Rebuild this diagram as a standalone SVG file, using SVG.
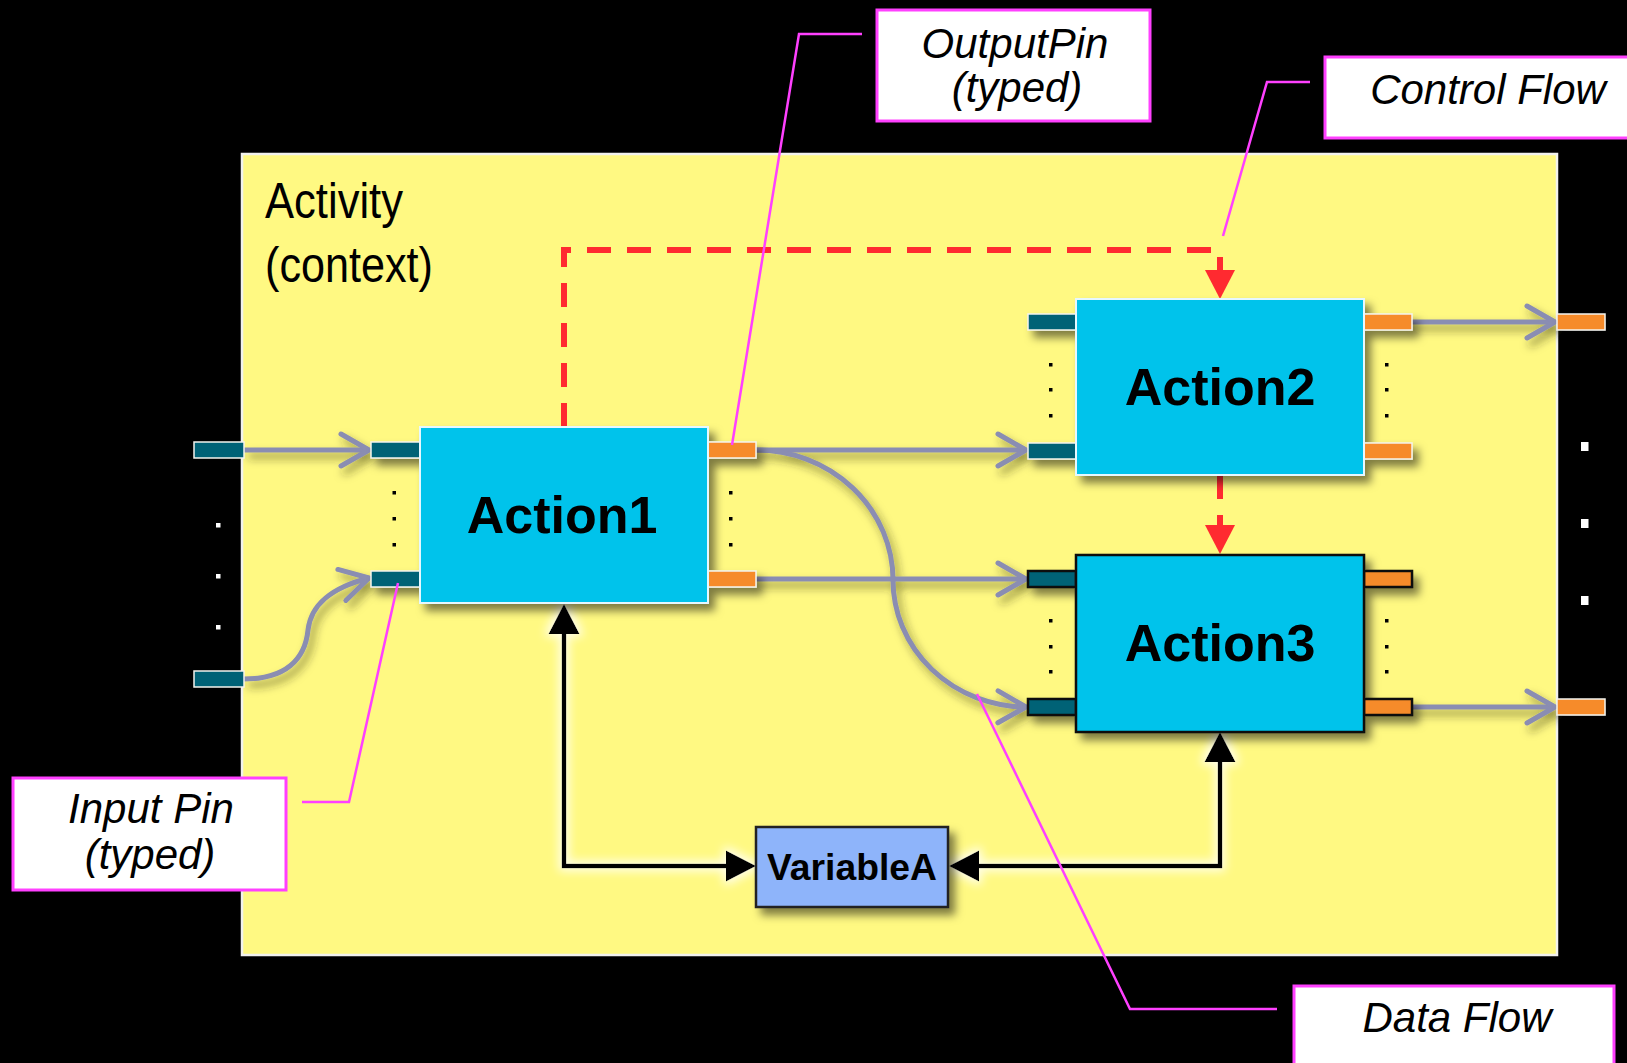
<svg xmlns="http://www.w3.org/2000/svg" width="1627" height="1063" viewBox="0 0 1627 1063">
  <style>
    .frame { fill: #FFF982; stroke: #F2F2EE; stroke-width: 2.5; }
    .ctx { font-family: "Liberation Sans", Arial, sans-serif; font-size: 50px; fill: #000; }
    .action { fill: #00C3EB; }
    .action.light { stroke: #E6F8FF; stroke-width: 2; }
    .action.dark { stroke: #111; stroke-width: 2.5; }
    .aname { font-family: "Liberation Sans", Arial, sans-serif; font-weight: bold; font-size: 52px; fill: #000; text-anchor: middle; }
    .var { fill: #8EB4FA; stroke: #222; stroke-width: 2.5; }
    .vname { font-family: "Liberation Sans", Arial, sans-serif; font-weight: bold; font-size: 37px; fill: #000; text-anchor: middle; }
    .pin-in { fill: #006276; }
    .pin-out { fill: #F68B2A; }
    .pin-light { stroke: #F4F4EE; stroke-width: 1.5; }
    .pin-dark { stroke: #111; stroke-width: 2.5; }
    .dot { fill: #000; }
    .wdot { fill: #FFF; }
    .data { fill: none; stroke: #8A8DB2; stroke-width: 5; marker-end: url(#open); }
    .ctrl { fill: none; stroke: #FF2A30; stroke-width: 6; stroke-dasharray: 24 16; marker-end: url(#redhead); }
    .obj { fill: none; stroke: #000; stroke-width: 4.5; marker-start: url(#blackhead); marker-end: url(#blackhead); }
    .note { fill: #FFF; stroke: #FF40FF; stroke-width: 3; }
    .leader { fill: none; stroke: #FF40FF; stroke-width: 2.5; }
    .ntext { font-family: "Liberation Sans", Arial, sans-serif; font-style: italic; font-size: 42px; fill: #000; text-anchor: middle; }
  </style>
  <defs>
    <filter id="shadow" x="-20%" y="-20%" width="150%" height="160%">
      <feDropShadow dx="6" dy="7" stdDeviation="4" flood-color="#000" flood-opacity="0.5"/>
    </filter>
    <filter id="lineshadow" x="-10%" y="-50%" width="120%" height="250%">
      <feDropShadow dx="4" dy="6" stdDeviation="4" flood-color="#2a2a00" flood-opacity="0.5"/>
    </filter>
    <filter id="glow" x="-20%" y="-20%" width="140%" height="140%">
      <feMorphology in="SourceAlpha" operator="dilate" radius="3" result="d"/>
      <feGaussianBlur in="d" stdDeviation="5" result="b"/>
      <feFlood flood-color="#FFFFFF" flood-opacity="0.8"/>
      <feComposite in2="b" operator="in" result="g"/>
      <feMerge><feMergeNode in="g"/><feMergeNode in="SourceGraphic"/></feMerge>
    </filter>
    <!-- open chevron used by data flows -->
    <marker id="open" markerUnits="userSpaceOnUse" viewBox="0 0 36 36" markerWidth="36" markerHeight="36" refX="31" refY="18" orient="auto" overflow="visible">
      <path d="M3,2 L31,18 L3,34" fill="none" stroke="#8A8DB2" stroke-width="5" stroke-linecap="round" stroke-linejoin="round"/>
    </marker>
    <!-- filled heads -->
    <marker id="redhead" markerUnits="userSpaceOnUse" viewBox="0 0 30 30" markerWidth="30" markerHeight="30" refX="19" refY="15" orient="auto" overflow="visible">
      <path d="M0,0 L29,15 L0,30 Z" fill="#FF2A30"/>
    </marker>
    <marker id="blackhead" markerUnits="userSpaceOnUse" viewBox="0 0 31 31" markerWidth="31" markerHeight="31" refX="20" refY="15.5" orient="auto-start-reverse" overflow="visible">
      <path d="M0,0 L30,15.5 L0,31 Z" fill="#000"/>
    </marker>
  </defs>

  <rect x="0" y="0" width="1627" height="1063" fill="#000"/>

  <!-- enclosing activity -->
  <g id="activity">
    <rect class="frame" x="242" y="154" width="1315" height="801"/>
    <text class="ctx" x="265" y="218" textLength="138" lengthAdjust="spacingAndGlyphs">Activity</text>
    <text class="ctx" x="265" y="282" textLength="168" lengthAdjust="spacingAndGlyphs">(context)</text>
  </g>

  <!-- flows -->
  <g id="connectors">
    <g filter="url(#lineshadow)">
      <path class="data" d="M244,450 H369"/>
      <path class="data" d="M244,679 C285,679 305,660 308,630 C311,605 330,588 369,578"/>
      <path class="data" d="M756,450 H1026"/>
      <path class="data" d="M756,450 A137,130 0 0 1 893,580 A134,127 0 0 0 1026,707"/>
      <path class="data" d="M756,579 H1026"/>
      <path class="data" d="M1412,322 H1555"/>
      <path class="data" d="M1412,707 H1555"/>
    </g>
    <path class="ctrl" d="M564,427 V250 H1220 V289"/>
    <path class="ctrl" d="M1220,475 V544"/>
    <g filter="url(#glow)">
      <path class="obj" d="M564,614 V866 H746"/>
      <path class="obj" d="M1220,742 V866 H959"/>
    </g>
  </g>

  <!-- parameter pins on the activity border -->
  <g id="activity-params">
    <rect class="pin-in pin-light" x="194" y="442" width="50" height="16"/>
    <rect class="pin-in pin-light" x="194" y="671" width="50" height="16"/>
    <rect class="wdot" x="216" y="523" width="4.5" height="4.5"/>
    <rect class="wdot" x="216" y="574" width="4.5" height="4.5"/>
    <rect class="wdot" x="216" y="625" width="4.5" height="4.5"/>
    <g filter="url(#shadow)">
      <rect class="pin-out pin-light" x="1557" y="314" width="48" height="16"/>
      <rect class="pin-out pin-light" x="1557" y="699" width="48" height="16"/>
    </g>
    <rect class="wdot" x="1581" y="442" width="7.5" height="9"/>
    <rect class="wdot" x="1581" y="519" width="7.5" height="9"/>
    <rect class="wdot" x="1581" y="596" width="7.5" height="9"/>
  </g>

  <g id="action1">
    <g filter="url(#shadow)">
      <rect class="pin-in pin-light" x="371" y="442" width="49" height="16"/>
      <rect class="pin-in pin-light" x="371" y="571" width="49" height="16"/>
      <rect class="pin-out pin-light" x="708" y="442" width="48" height="16"/>
      <rect class="pin-out pin-light" x="708" y="571" width="48" height="16"/>
      <rect class="action light" x="420" y="427" width="288" height="176"/>
    </g>
    <text class="aname" x="562" y="533">Action1</text>
    <rect class="dot" x="392.5" y="491" width="3.5" height="3.5"/>
    <rect class="dot" x="392.5" y="517" width="3.5" height="3.5"/>
    <rect class="dot" x="392.5" y="543" width="3.5" height="3.5"/>
    <rect class="dot" x="729" y="491" width="3.5" height="3.5"/>
    <rect class="dot" x="729" y="517" width="3.5" height="3.5"/>
    <rect class="dot" x="729" y="543" width="3.5" height="3.5"/>
  </g>

  <g id="action2">
    <g filter="url(#shadow)">
      <rect class="pin-in pin-light" x="1028" y="314" width="48" height="16"/>
      <rect class="pin-in pin-light" x="1028" y="443" width="48" height="16"/>
      <rect class="pin-out pin-light" x="1364" y="314" width="48" height="16"/>
      <rect class="pin-out pin-light" x="1364" y="443" width="48" height="16"/>
      <rect class="action light" x="1076" y="299" width="288" height="176"/>
    </g>
    <text class="aname" x="1220" y="405">Action2</text>
    <rect class="dot" x="1049" y="363" width="3.5" height="3.5"/>
    <rect class="dot" x="1049" y="388" width="3.5" height="3.5"/>
    <rect class="dot" x="1049" y="414" width="3.5" height="3.5"/>
    <rect class="dot" x="1385" y="363" width="3.5" height="3.5"/>
    <rect class="dot" x="1385" y="388" width="3.5" height="3.5"/>
    <rect class="dot" x="1385" y="414" width="3.5" height="3.5"/>
  </g>

  <g id="action3">
    <g filter="url(#shadow)">
      <rect class="pin-in pin-dark" x="1028" y="571" width="48" height="16"/>
      <rect class="pin-in pin-dark" x="1028" y="699" width="48" height="16"/>
      <rect class="pin-out pin-dark" x="1364" y="571" width="48" height="16"/>
      <rect class="pin-out pin-dark" x="1364" y="699" width="48" height="16"/>
      <rect class="action dark" x="1076" y="555" width="288" height="177"/>
    </g>
    <text class="aname" x="1220" y="661">Action3</text>
    <rect class="dot" x="1049" y="619" width="3.5" height="3.5"/>
    <rect class="dot" x="1049" y="645" width="3.5" height="3.5"/>
    <rect class="dot" x="1049" y="670" width="3.5" height="3.5"/>
    <rect class="dot" x="1385" y="619" width="3.5" height="3.5"/>
    <rect class="dot" x="1385" y="645" width="3.5" height="3.5"/>
    <rect class="dot" x="1385" y="670" width="3.5" height="3.5"/>
  </g>

  <g id="variableA">
    <rect class="var" x="756" y="827" width="192" height="80" filter="url(#shadow)"/>
    <text class="vname" x="852" y="880" textLength="170" lengthAdjust="spacingAndGlyphs">VariableA</text>
  </g>

  <!-- annotations -->
  <g id="note-output-pin">
    <polyline class="leader" points="732,445 799,34 862,34"/>
    <rect class="note" x="877" y="10" width="273" height="111"/>
    <text class="ntext" x="1015" y="58">OutputPin</text>
    <text class="ntext" x="1017" y="102">(typed)</text>
  </g>

  <g id="note-control-flow">
    <polyline class="leader" points="1223,236 1267,82 1310,82"/>
    <rect class="note" x="1325" y="57" width="320" height="81"/>
    <text class="ntext" x="1488" y="104">Control Flow</text>
  </g>

  <g id="note-data-flow">
    <polyline class="leader" points="977,694 1130,1009 1277,1009"/>
    <rect class="note" x="1294" y="986" width="320" height="100"/>
    <text class="ntext" x="1457" y="1032">Data Flow</text>
  </g>

  <g id="note-input-pin">
    <polyline class="leader" points="398,583 349,802 302,802"/>
    <rect class="note" x="13" y="778" width="273" height="112"/>
    <text class="ntext" x="151" y="823">Input Pin</text>
    <text class="ntext" x="150" y="869">(typed)</text>
  </g>
</svg>
